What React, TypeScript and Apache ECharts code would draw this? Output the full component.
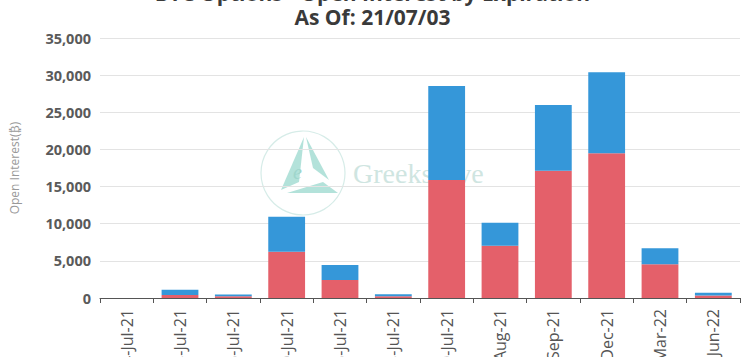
import React, { useEffect, useRef } from "react";
import * as echarts from "echarts";

const categories = ["04-Jul-21", "05-Jul-21", "06-Jul-21", "09-Jul-21", "16-Jul-21", "23-Jul-21", "30-Jul-21", "27-Aug-21", "24-Sep-21", "31-Dec-21", "25-Mar-22", "24-Jun-22"];
const callValues = [0, 400, 250, 6230, 2420, 250, 15880, 7040, 17140, 19470, 4540, 350];
const putValues = [0, 700, 220, 4710, 2020, 250, 12660, 3100, 8840, 10910, 2150, 370];
const yTicks = { min: 0, max: 35000, interval: 5000 };
const titleText = "BTC Options - Open Interest by Expiration\nAs Of: 21/07/03";
const yName = "Open Interest(₿)";

const OFF = 30;

export default function App() {
  const ref = useRef<HTMLDivElement>(null);
  useEffect(() => {
    const chart = echarts.init(ref.current!, null, { renderer: "svg" });
    const teal = "#b3e2da";
    chart.setOption({
      animation: false,
      backgroundColor: "#fff",
      title: {
        text: titleText,
        left: "center",
        top: 6,
        textStyle: { fontFamily: "Open Sans", fontSize: 21, fontWeight: "bold", color: "#3a3a3a", lineHeight: 24 },
      },
      graphic: [
        { type: "circle", shape: { cx: 303, cy: 173 + OFF, r: 42 }, style: { fill: "none", stroke: "#d6ece8", lineWidth: 1.2 }, z: 0 },
        { type: "polygon", shape: { points: [[304, 137 + OFF], [281, 190 + OFF], [299, 182 + OFF]] }, style: { fill: teal }, z: 0 },
        { type: "polygon", shape: { points: [[306, 137 + OFF], [329, 180 + OFF], [313, 168 + OFF]] }, style: { fill: teal }, z: 0 },
        { type: "polygon", shape: { points: [[287, 193 + OFF], [338, 193 + OFF], [323, 182 + OFF]] }, style: { fill: teal }, z: 0 },
        { type: "text", x: 293, y: 162 + OFF, style: { text: "e", font: "italic 20px 'Liberation Serif'", fill: "#9fd6cc" }, z: 0 },
        { type: "text", x: 353, y: 173 + OFF, style: { text: "GreeksLive", font: "28px 'Liberation Serif'", fill: "#cfe5e1", textVerticalAlign: "middle" }, z: 0 },
      ],
      grid: { left: 100, right: 5, top: 38 + OFF, bottom: 420 - (298 + OFF), containLabel: false },
      xAxis: {
        type: "category",
        data: categories,
        axisLine: { lineStyle: { color: "#555" } },
        axisTick: { show: true, length: 5, lineStyle: { color: "#555" } },
        axisLabel: { rotate: 90, fontFamily: "Open Sans", fontSize: 16, color: "#555", margin: 11 },
      },
      yAxis: {
        type: "value",
        min: yTicks.min,
        max: yTicks.max,
        interval: yTicks.interval,
        name: yName,
        nameLocation: "middle",
        nameGap: 80,
        nameTextStyle: { fontFamily: "Open Sans", fontSize: 12, color: "#999" },
        axisLine: { show: false },
        axisTick: { show: false },
        axisLabel: { fontFamily: "Open Sans", fontSize: 14.5, fontWeight: "bold", color: "#5a5a5a", margin: 9, formatter: (v: number) => v.toLocaleString("en-US") },
        splitLine: { lineStyle: { color: "#e3e3e3" } },
      },
      series: [
        { name: "Calls", type: "bar", stack: "oi", data: callValues, barWidth: "69%", itemStyle: { color: "#e4606a" } },
        { name: "Puts", type: "bar", stack: "oi", data: putValues, barWidth: "69%", itemStyle: { color: "#3597d9" } },
      ],
    });
    return () => chart.dispose();
  }, []);
  return <div ref={ref} style={{ position: "fixed", left: 0, top: -OFF, width: 745, height: 420 }} />;
}
